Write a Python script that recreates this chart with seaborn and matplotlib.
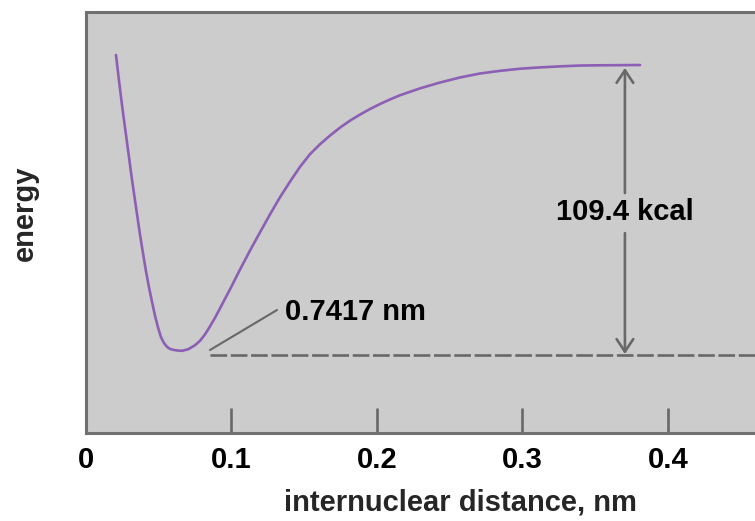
import matplotlib
matplotlib.use("Agg")
import matplotlib.pyplot as plt
import seaborn as sns
import pandas as pd

# ---- data ----
dist_nm = [0.0206, 0.0227, 0.0247, 0.0268, 0.0289, 0.0309, 0.0330, 0.0351, 0.0371,
           0.0392, 0.0412, 0.0433, 0.0454, 0.0474, 0.0495, 0.0515, 0.0536, 0.0557,
           0.0577, 0.0605, 0.0632, 0.0660, 0.0703, 0.0749, 0.0784, 0.0818, 0.0852,
           0.0887, 0.0921, 0.0955, 0.0990, 0.1058, 0.1127, 0.1196, 0.1265, 0.1333,
           0.1402, 0.1471, 0.1540, 0.1608, 0.1677, 0.1746, 0.1814, 0.1883, 0.1952,
           0.2021, 0.2089, 0.2158, 0.2296, 0.2433, 0.2570, 0.2708, 0.2845, 0.2983,
           0.3120, 0.3258, 0.3395, 0.3533, 0.3808]
energy_kcal = [3.8, -6.0, -14.9, -23.6, -32.1, -40.4, -48.5, -56.4, -63.9,
               -71.1, -77.7, -83.9, -89.4, -94.5, -99.0, -102.6, -104.9, -106.3,
               -107.1, -107.5, -107.7, -107.8, -107.2, -105.7, -104.0, -101.6, -98.6,
               -95.3, -91.8, -88.2, -84.6, -77.2, -70.0, -63.1, -56.3, -49.9,
               -44.0, -38.4, -33.6, -29.9, -26.6, -23.6, -21.0, -18.7, -16.6,
               -14.7, -13.0, -11.4, -8.8, -6.6, -4.7, -3.2, -2.2, -1.4,
               -0.9, -0.5, -0.2, -0.1, 0.0]
xtick_values = [0, 0.1, 0.2, 0.3, 0.4]
xtick_labels = ["0", "0.1", "0.2", "0.3", "0.4"]
bond_energy = 109.4
bond_energy_label = "109.4 kcal"
bond_length_label = "0.7417 nm"
x_label = "internuclear distance, nm"
y_label = "energy"

df = pd.DataFrame({"distance": dist_nm, "energy": energy_kcal})

sns.set_style("ticks")
plt.rcParams["font.family"] = ["Liberation Sans", "DejaVu Sans"]
plt.rcParams["font.weight"] = "bold"

FS = 21
GREY = "#686868"

fig = plt.figure(figsize=(7.55, 5.21), dpi=100)
ax = fig.add_axes([86 / 755, 1 - 433 / 521, (755 - 86) / 755, (433 - 12) / 521])
ax.set_facecolor("#cccccc")

sns.lineplot(data=df, x="distance", y="energy", ax=ax, color="#8c5fb5",
             linewidth=1.9, sort=False)

ax.set_xlim(0, 0.4598)
ax.set_ylim(-138.8, 20.0)

# dashed reference line at the well bottom
ax.plot([0.0852, 0.52], [-bond_energy, -bond_energy], color=GREY, lw=1.9,
        dashes=(6.3, 1.4), solid_capstyle="butt", dash_capstyle="butt")

# dissociation energy arrows
xa = 0.3704
ax.annotate("", xy=(xa, -1.1), xytext=(xa, -48.3),
            arrowprops=dict(arrowstyle="->,head_length=0.9,head_width=0.6",
                            color=GREY, lw=1.9, shrinkA=0, shrinkB=0,
                            mutation_scale=10))
ax.annotate("", xy=(xa, -bond_energy + 0.4), xytext=(xa, -63.4),
            arrowprops=dict(arrowstyle="->,head_length=0.9,head_width=0.6",
                            color=GREY, lw=1.9, shrinkA=0, shrinkB=0,
                            mutation_scale=10))
ax.text(xa, -55.4, bond_energy_label, ha="center", va="center",
        fontsize=FS, fontweight="bold", color="black")

# bond length leader + label
ax.plot([0.0852, 0.1313], [-107.5, -92.4], color=GREY, lw=1.5)
ax.text(0.1368, -93.2, bond_length_label, ha="left", va="center",
        fontsize=FS, fontweight="bold", color="black")

# axes styling
ax.set_xticks(xtick_values)
ax.set_xticklabels(xtick_labels, fontsize=FS, fontweight="bold")
ax.set_yticks([])
ax.tick_params(axis="x", direction="in", length=18, width=1.9, color=GREY,
               pad=9, labelcolor="black")
for side in ["left", "top", "bottom"]:
    ax.spines[side].set_color("#707070")
    ax.spines[side].set_linewidth(2.2)
ax.spines["right"].set_visible(False)

ax.set_xlabel(x_label, fontsize=FS, fontweight="bold")
ax.set_ylabel(y_label, fontsize=FS, fontweight="bold")
ax.xaxis.label.set_va("baseline")
ax.xaxis.set_label_coords(0.559, -0.1829)
ax.yaxis.set_label_coords(-0.0703, 0.5226)

fig.savefig("out.png", dpi=100)
